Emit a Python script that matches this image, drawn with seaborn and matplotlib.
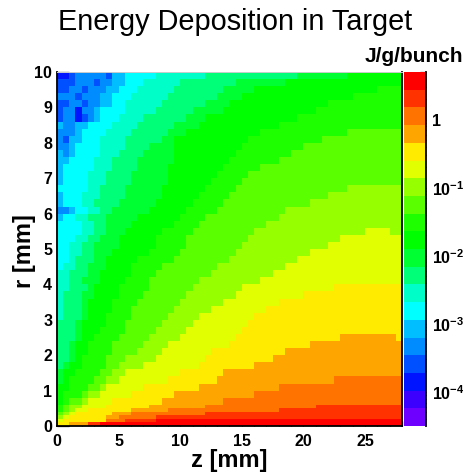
import numpy as np
import seaborn as sns
import matplotlib
matplotlib.use("Agg")
import matplotlib.pyplot as plt
from matplotlib.colors import ListedColormap, LogNorm
from matplotlib.ticker import FixedLocator, NullFormatter

sns.set_theme(style="white")
plt.rcParams['font.family'] = ['Liberation Sans', 'DejaVu Sans']
plt.rcParams['mathtext.fontset'] = 'custom'
plt.rcParams['mathtext.bf'] = 'Liberation Sans:bold'
plt.rcParams['mathtext.rm'] = 'Liberation Sans:bold'
plt.rcParams['mathtext.default'] = 'bf'

# Colour bands of the z axis, lowest to highest
band_colors = ["#6e00ff", "#3c00ff", "#0014ff", "#0050ff", "#008cff", "#00beff", "#00ffff",
               "#00ffc8", "#00ff78", "#00ff32", "#00ff00", "#1eff00", "#5aff00", "#96ff00",
               "#e1ff00", "#ffeb00", "#ffa500", "#ff7300", "#ff3200", "#ff0000"]

# Each row (bottom to top): "start column:band" runs, columns are 0.5 mm wide
rows_low = [
    "0:15 2:16 5:18 7:19",
    "0:14 1:15 8:17 11:18 16:19",
    "0:13 1:14 2:15 8:16 10:17 16:18",
    "0:12 1:13 2:14 3:15 9:16 12:17 24:18",
    "0:11 1:12 2:13 3:14 5:15 12:16 18:17 36:18",
    "0:11 1:12 2:13 4:14 8:15 15:16 24:17 42:18",
]
rows_mid = [
    "0:10 1:11 2:12 4:13 5:14 9:15 17:16 27:17",
    "0:10 1:11 4:12 5:13 7:14 12:15 19:16 32:17",
    "0:10 2:11 5:12 7:13 8:14 14:15 23:16 36:17",
    "0:9 1:10 2:11 6:12 8:13 10:14 18:15 26:16 45:17",
    "0:9 1:10 3:11 7:12 9:13 11:14 20:15 27:16",
    "0:8 1:9 2:10 4:11 8:12 10:13 14:14 23:15 32:16",
    "0:8 2:9 3:10 4:11 8:12 11:13 16:14 24:15 35:16",
    "0:8 2:9 3:10 5:11 9:12 13:13 17:14 25:15 37:16",
    "0:8 2:9 3:10 5:11 9:12 14:13 18:14 28:15 41:16",
    "0:8 3:9 4:10 6:11 10:12 15:13 20:14 29:15 46:16 55:15",
    "0:8 3:9 4:10 7:11 11:12 16:13 21:14 30:15",
    "0:8 3:9 4:10 8:11 11:12 17:13 22:14 31:15",
    "0:7 1:8 4:9 5:10 8:11 12:12 18:13 23:14 32:15",
    "0:7 1:8 4:9 5:10 9:11 12:12 19:13 25:14 34:15",
    "0:7 1:8 4:9 5:10 9:11 13:12 20:13 27:14 36:15",
    "0:7 1:8 4:9 6:10 10:11 14:12 21:13 29:14 40:15",
    "0:7 2:8 5:9 6:10 10:11 15:12 22:13 30:14 45:15",
    "0:7 2:8 4:9 7:10 11:11 15:12 23:13 33:14",
    "0:7 2:8 5:9 7:10 12:11 16:12 25:13 35:14",
    "0:6 1:7 3:8 5:9 8:10 12:11 17:12 26:13 37:14",
    "0:6 2:7 3:8 6:9 8:10 13:11 19:12 28:13 39:14",
    "0:6 2:7 4:8 6:9 9:10 15:11 20:12 29:13 41:14",
    "0:6 2:7 4:8 6:9 10:10 16:11 21:12 30:13 44:14",
    "0:6 3:7 5:8 7:9 10:10 16:11 21:12 31:13 46:14",
]
rows_high = [
    "0:6 4:7 6:8 8:9 11:10 17:11 22:12 32:13 50:14 54:13",
    "0:6 4:7 6:8 8:9 12:10 19:11 23:12 34:13",
    "0:5 1:6 3:7 5:8 8:9 13:10 20:11 24:12 36:13",
    "0:4 2:5 3:6 5:7 7:8 9:9 15:10 21:11 26:12 37:13",
    "0:5 1:6 4:7 6:8 10:9 16:10 22:11 27:12 41:13",
    "0:5 1:6 4:7 7:8 11:9 17:10 23:11 28:12 44:13",
    "0:6 5:7 7:8 11:9 17:10 24:11 29:12 47:13",
    "0:5 1:6 5:7 8:8 12:9 18:10 25:11 30:12",
    "0:5 1:6 5:7 8:8 12:9 18:10 26:11 31:12",
    "0:5 1:6 6:7 9:8 13:9 18:10 27:11 33:12",
    "0:5 2:6 6:7 9:8 13:9 19:10 28:11 36:12",
    "0:5 1:4 2:5 3:6 7:7 10:8 14:9 19:10 29:11 38:12",
    "0:4 2:5 3:6 7:7 11:8 15:9 19:10 30:11 40:12",
    "0:4 1:3 2:5 4:6 7:7 11:8 17:9 19:10 31:11 43:12",
    "0:4 3:5 4:6 8:7 12:8 18:9 21:10 33:11 47:12",
    "0:5 1:4 3:5 5:6 9:7 13:8 19:9 23:10 36:11",
    "0:3 1:4 3:2 4:3 5:4 6:5 7:6 10:7 14:8 21:9 24:10 39:11",
    "0:3 1:4 3:2 4:4 6:5 7:6 11:7 16:8 22:9 27:10 42:11",
    "0:3 2:4 4:3 5:4 7:5 9:6 11:7 17:8 24:9 28:10 44:11",
    "0:4 3:3 4:4 7:5 9:6 12:7 18:8 26:9 30:10 48:11",
    "0:3 2:4 4:3 5:4 8:5 10:6 13:7 19:8 27:9 32:10 52:11",
    "0:3 3:4 6:3 7:4 9:5 11:6 14:7 20:8 29:9 37:10",
    "0:2 2:3 3:4 8:3 9:5 11:6 16:7 24:8 39:9 47:10",
]
z_ticks = [0, 5, 10, 15, 20, 25]
r_ticks = [0, 1, 2, 3, 4, 5, 6, 7, 8, 9, 10]
color_ticks = [1e-4, 1e-3, 1e-2, 1e-1, 1]
color_tick_labels = [r"$\mathbf{10^{-4}}$", r"$\mathbf{10^{-3}}$", r"$\mathbf{10^{-2}}$",
                     r"$\mathbf{10^{-1}}$", "1"]
color_min, color_max = 10 ** -4.5, 10 ** 0.7

N_COLS = 56
all_rows = rows_low + rows_mid + rows_high
bands = np.zeros((len(all_rows), N_COLS))
for i, row in enumerate(all_rows):
    for token in row.split():
        start, band = token.split(":")
        bands[i, int(start):] = int(band)
# the lowest rows are 0.1 mm tall, the others 0.2 mm
bands = np.repeat(bands, [1] * len(rows_low) + [2] * (len(all_rows) - len(rows_low)), axis=0)
energy = color_min * (color_max / color_min) ** ((bands + 0.5) / len(band_colors))

W, H = 464, 472
fig = plt.figure(figsize=(W / 100, H / 100), dpi=100, facecolor="white")
ax = fig.add_axes([57 / W, (H - 426) / H, 345 / W, 354 / H])
cax = fig.add_axes([404 / W, (H - 426) / H, 22 / W, 354 / H])

sns.heatmap(energy, ax=ax, cbar_ax=cax, cmap=ListedColormap(band_colors),
            norm=LogNorm(color_min, color_max), xticklabels=False, yticklabels=False)

ax.set_xlim(0, N_COLS)
ax.set_ylim(0, energy.shape[0])
x_per_mm = N_COLS / 28
y_per_mm = energy.shape[0] / 10
ax.set_xticks([z * x_per_mm for z in z_ticks])
ax.set_xticklabels([str(z) for z in z_ticks])
ax.set_yticks([r * y_per_mm for r in r_ticks])
ax.set_yticklabels([str(r) for r in r_ticks], rotation=0)
ax.set_xticks([z * x_per_mm for z in range(0, 29)], minor=True)
ax.set_yticks([i * 0.2 * y_per_mm for i in range(0, 51)], minor=True)
ax.tick_params(axis="x", which="major", direction="in", length=6.5, width=0.9, color="#111111",
               labelsize=11.5, pad=5.5, bottom=True)
ax.tick_params(axis="x", which="minor", direction="in", length=3.3, width=0.9, color="#111111", bottom=True)
ax.tick_params(axis="y", which="major", direction="in", length=8.6, width=0.9, color="#111111",
               labelsize=11.5, pad=3.5, left=True)
ax.tick_params(axis="y", which="minor", direction="in", length=4.3, width=0.9, color="#111111", left=True)
for lab in ax.get_xticklabels() + ax.get_yticklabels():
    lab.set_fontweight("bold")
    lab.set_color("black")
for name, spine in ax.spines.items():
    spine.set_visible(True)
    spine.set_color("#cccccc" if name == "top" else "black")
    spine.set_linewidth(0.7 if name == "top" else 1.3)

cbar = ax.collections[0].colorbar
cb = cbar.ax
cb.yaxis.set_major_locator(FixedLocator(color_ticks))
cb.set_yticklabels(color_tick_labels)
minor = [m * 10.0 ** e for e in range(-5, 1) for m in range(2, 10)]
cb.yaxis.set_minor_locator(FixedLocator([v for v in minor if color_min <= v <= color_max]))
cb.yaxis.set_minor_formatter(NullFormatter())
cb.tick_params(axis="y", which="major", direction="in", right=True, length=8.6, width=0.9,
               color="#111111", labelsize=11.5, pad=4.5)
cb.tick_params(axis="y", which="minor", direction="in", right=True, length=4.3, width=0.9, color="#111111")
for lab in cb.get_yticklabels():
    lab.set_fontweight("bold")
    lab.set_color("black")
for name, spine in cb.spines.items():
    spine.set_visible(name == "right")
    spine.set_color("black")
    spine.set_linewidth(1.3)
cbar.outline.set_visible(False)

fig.text(235.5 / W, 1 - 30 / H, "Energy Deposition in Target", ha="center", va="baseline",
         fontsize=20.8, color="black")
fig.text(413.5 / W, 1 - 62 / H, "J/g/bunch", ha="center", va="baseline", fontsize=15,
         fontweight="bold", color="black")
fig.text(229 / W, 1 - 467 / H, "z [mm]", ha="center", va="baseline", fontsize=17,
         fontweight="bold", color="black")
fig.text(25 / W, 1 - 251 / H, "r [mm]", ha="center", va="center", rotation=90, fontsize=17,
         fontweight="bold", color="black")

fig.savefig("out.png", dpi=100, facecolor="white")
